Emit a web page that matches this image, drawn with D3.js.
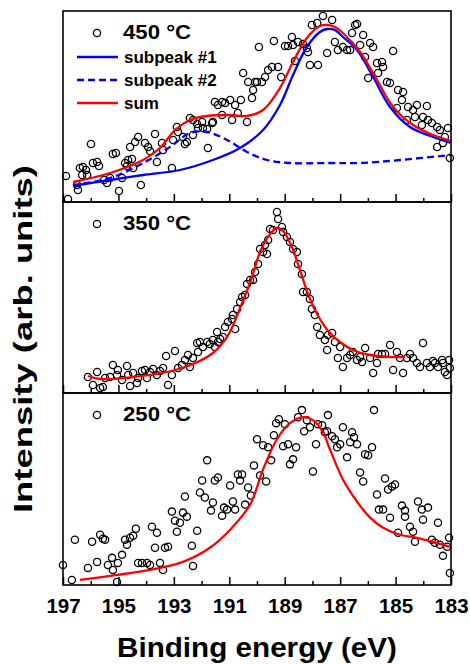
<!DOCTYPE html>
<html>
<head>
<meta charset="utf-8">
<script src="https://cdn.jsdelivr.net/npm/d3@7"></script>
<style>
body { margin: 0; background: #fff; }
text { font-family: Arial, "Liberation Sans", sans-serif; font-weight: bold; fill: #000; }
</style>
</head>
<body>
<div id="chart"></div>
<script>
// binding energy ticks (eV), labelled and unlabelled
const majorTicks = [197, 195, 193, 191, 189, 187, 185, 183];
const minorTicks = [196, 194, 192, 190, 188, 186, 184];
const panelLabels = ['450 °C', '350 °C', '250 °C'];
const legendNames = ['subpeak #1', 'subpeak #2', 'sum'];

// measured points [E (eV), intensity (arb.)]
const pts450 = [[196.89,26],[196.82,3],[196.49,17],[196.46,12],[196.39,34],[196.31,27],[196.28,35],[196.17,32],[196.13,27],[195.99,58],
  [195.92,39],[195.77,40],[195.70,36],[195.52,22],[195.41,19],[195.30,24],[195.20,48],[195.09,49],[194.98,11],[194.87,24],
  [194.76,39],[194.69,36],[194.65,42],[194.58,55],[194.51,43],[194.47,34],[194.40,60],[194.29,65],[194.19,17],[194.04,59],
  [193.93,55],[193.86,51],[193.68,68],[193.61,40],[193.43,59],[193.39,52],[193.07,34],[193.03,62],[192.89,75],[192.85,70],
  [192.67,65],[192.60,58],[192.53,60],[192.42,84],[192.31,82],[192.31,67],[192.16,78],[192.13,74],[191.98,80],[191.95,74],
  [191.80,73],[191.77,54],[191.62,79],[191.59,80],[191.52,100],[191.41,97],[191.26,100],[191.26,87],[191.15,99],[190.97,102],
  [190.90,82],[190.79,97],[190.69,89],[190.58,102],[190.50,129],[190.36,80],[190.32,120],[190.18,104],[190.14,112],[190.07,120],
  [190.00,120],[189.93,155],[189.82,120],[189.71,125],[189.60,132],[189.46,135],[189.39,161],[189.24,135],[189.13,125],[188.99,156],
  [188.88,156],[188.74,165],[188.70,157],[188.63,141],[188.52,160],[188.34,158],[188.20,154],[188.16,150],[188.09,137],[188.02,177],
  [187.83,179],[187.80,137],[187.62,186],[187.47,149],[187.29,182],[187.19,160],[187.08,152],[186.90,155],[186.75,152],[186.64,152],
  [186.57,169],[186.46,177],[186.39,178],[186.28,157],[186.17,167],[186.10,145],[185.99,124],[185.92,159],[185.81,155],[185.67,139],
  [185.63,129],[185.49,140],[185.45,135],[185.31,120],[185.20,119],[185.09,151],[184.95,94],[184.91,112],[184.77,102],[184.73,110],
  [184.59,82],[184.55,95],[184.37,92],[184.30,85],[184.23,97],[184.05,77],[184.01,85],[183.87,96],[183.83,82],[183.69,79],
  [183.50,75],[183.50,55],[183.40,72],[183.29,59],[183.22,65],[183.11,74],[183.04,44]];

const sub1_450 = [[196.64,16],[195.30,22],[194.11,27],[192.78,32],[191.59,42],[190.61,54],[189.78,72],[189.17,97],[188.70,127],[188.20,155],
  [187.73,170],[187.47,173],[187.19,172],[186.90,165],[186.39,152],[185.81,125],[185.20,95],[184.48,75],[183.65,65],[183.00,59]];
const sub2_450 = [[196.64,17],[195.30,24],[194.11,39],[193.14,55],[192.42,69],[191.80,70],[191.08,62],[190.36,50],[189.64,42],[188.81,39],
  [187.37,39],[186.28,39],[184.84,42],[183.00,47]];
const sum450 = [[196.64,20],[195.30,29],[194.11,42],[193.50,54],[192.96,72],[192.42,82],[191.80,86],[190.97,87],[190.36,86],[189.78,92],
  [189.17,114],[188.70,140],[188.20,164],[187.73,176],[187.47,177],[187.19,175],[186.90,169],[186.28,150],[185.67,122],[185.09,95],
  [184.37,77],[183.65,67],[183.00,61]];

const pts350 = [[196.10,16],[195.92,8],[195.77,21],[195.66,5],[195.56,6],[195.48,15],[195.30,16],[195.20,28],[195.05,18],[195.02,23],
  [194.87,13],[194.69,27],[194.65,18],[194.58,7],[194.47,20],[194.33,10],[194.29,15],[194.15,22],[194.04,23],[193.97,15],
  [193.86,21],[193.75,24],[193.61,18],[193.50,22],[193.39,25],[193.28,37],[193.21,8],[193.07,18],[192.96,42],[192.85,25],
  [192.71,28],[192.60,33],[192.49,38],[192.42,26],[192.31,35],[192.16,50],[192.13,41],[192.06,51],[191.95,46],[191.80,51],
  [191.70,49],[191.59,53],[191.52,46],[191.44,61],[191.41,51],[191.33,54],[191.23,56],[191.15,66],[191.05,71],[190.90,74],
  [190.87,78],[190.79,64],[190.72,84],[190.61,91],[190.54,96],[190.43,98],[190.36,109],[190.25,113],[190.14,113],[190.07,121],
  [189.96,129],[189.89,144],[189.78,141],[189.71,148],[189.64,139],[189.60,153],[189.53,164],[189.42,163],[189.28,181],[189.24,174],
  [189.10,166],[189.06,161],[188.92,156],[188.81,151],[188.70,144],[188.56,141],[188.52,129],[188.38,119],[188.34,101],[188.20,101],
  [188.09,94],[188.02,84],[187.91,78],[187.83,66],[187.73,58],[187.55,53],[187.47,43],[187.44,58],[187.29,60],[187.19,51],
  [187.08,35],[187.00,46],[186.90,26],[186.75,35],[186.64,38],[186.54,41],[186.39,33],[186.28,36],[186.21,31],[186.10,45],
  [185.92,35],[185.81,20],[185.67,30],[185.63,39],[185.49,39],[185.38,39],[185.20,48],[185.09,23],[184.95,41],[184.84,35],
  [184.73,20],[184.59,35],[184.48,39],[184.37,35],[184.23,30],[184.12,26],[184.01,50],[183.87,30],[183.76,26],[183.65,32],
  [183.58,30],[183.47,26],[183.32,33],[183.29,30],[183.22,21],[183.14,18],[183.07,33],[183.04,25]];
const fit350 = [[196.10,17],[195.66,14],[194.47,16],[193.25,21],[192.31,29],[191.59,40],[191.08,56],[190.58,87],[190.18,116],[189.89,141],
  [189.53,159],[189.28,165],[189.06,162],[188.74,146],[188.45,123],[188.09,94],[187.73,74],[187.37,60],[187.00,51],[186.54,43],
  [185.92,38],[185.20,36],[184.66,36]];

const pts250 = [[197.00,20],[196.68,5],[196.57,45],[196.10,17],[195.95,43],[195.77,23],[195.66,50],[195.56,46],[195.48,45],[195.38,20],
  [195.23,27],[195.20,15],[195.05,3],[195.02,22],[194.87,30],[194.76,45],[194.69,40],[194.58,47],[194.47,49],[194.37,56],
  [194.29,22],[194.15,22],[193.97,22],[193.86,20],[193.79,58],[193.68,37],[193.61,52],[193.50,22],[193.39,15],[193.32,37],
  [193.21,38],[193.07,73],[192.96,64],[192.89,53],[192.78,62],[192.67,72],[192.60,88],[192.53,68],[192.35,39],[192.31,19],
  [192.16,54],[192.06,92],[191.98,104],[191.88,87],[191.80,124],[191.66,74],[191.59,82],[191.52,104],[191.41,107],[191.26,69],
  [191.19,77],[191.08,75],[190.97,99],[190.87,83],[190.79,75],[190.69,110],[190.61,104],[190.54,110],[190.43,80],[190.32,97],
  [190.22,89],[190.11,119],[190.00,145],[189.89,109],[189.78,139],[189.67,103],[189.60,137],[189.49,124],[189.39,149],[189.31,161],
  [189.21,165],[189.06,138],[188.99,160],[188.88,140],[188.81,120],[188.70,125],[188.59,137],[188.52,167],[188.38,174],[188.30,153],
  [188.20,164],[188.09,157],[187.98,113],[187.87,140],[187.80,160],[187.65,159],[187.55,152],[187.47,153],[187.44,169],[187.29,148],
  [187.19,145],[187.11,137],[187.00,140],[186.90,157],[186.75,127],[186.64,142],[186.57,152],[186.50,147],[186.39,140],[186.28,112],
  [186.17,103],[186.10,130],[185.99,129],[185.85,137],[185.78,174],[185.67,90],[185.60,75],[185.45,75],[185.38,106],[185.27,95],
  [185.20,67],[185.13,98],[185.02,100],[184.91,52],[184.77,79],[184.66,74],[184.66,68],[184.48,58],[184.37,53],[184.30,43],
  [184.19,83],[184.05,75],[184.01,65],[183.83,77],[183.69,45],[183.58,42],[183.47,62],[183.40,40],[183.29,29],[183.14,38],
  [183.07,47],[183.04,12]];
const fit250 = [[196.39,5],[195.05,10],[193.86,15],[192.67,23],[191.70,37],[190.97,55],[190.25,80],[189.78,115],[189.28,145],[188.81,161],
  [188.34,167],[187.98,164],[187.62,152],[187.37,135],[186.90,105],[186.39,83],[185.92,67],[185.45,57],[184.84,50],[184.23,47],
  [183.65,43],[183.04,38]];

const width = 470, height = 664;
const plot = { left: 63, right: 451 };
const panelTops = [11, 202, 393];
const panelBottoms = [202, 393, 585];

const svg = d3.select('#chart').append('svg')
  .attr('width', width)
  .attr('height', height);

const x = d3.scaleLinear().domain([197, 183]).range([plot.left, plot.right]);

const panels = [
  { pts: pts450, lines: [{ d: sub1_450, color: '#0000ff', dash: null }, { d: sub2_450, color: '#0000ff', dash: '7,4' }, { d: sum450, color: '#ff0000', dash: null }] },
  { pts: pts350, lines: [{ d: fit350, color: '#ff0000', dash: null }] },
  { pts: pts250, lines: [{ d: fit250, color: '#ff0000', dash: null }] }
];

panels.forEach(function (p, i) {
  const top = panelTops[i], bottom = panelBottoms[i];
  const y = d3.scaleLinear().domain([0, 191]).range([bottom, top]);
  const g = svg.append('g');

  // minor ticks
  const minor = g.append('g')
    .attr('transform', 'translate(0,' + bottom + ')')
    .call(d3.axisBottom(x).tickValues(minorTicks).tickSize(-4).tickSizeOuter(0).tickFormat(''));
  minor.select('.domain').remove();
  // major ticks, labels on the bottom panel only
  const major = g.append('g')
    .attr('transform', 'translate(0,' + bottom + ')')
    .call(d3.axisBottom(x).tickValues(majorTicks).tickSize(-8).tickSizeOuter(0).tickPadding(13)
      .tickFormat(i === 2 ? d3.format('d') : ''));
  major.select('.domain').remove();
  g.selectAll('.tick line').attr('stroke', '#000').attr('stroke-width', 1.5);
  major.selectAll('text').style('font-size', '20.5px').attr('font-family', null).attr('fill', '#000');

  g.append('g').selectAll('circle')
    .data(p.pts)
    .join('circle')
    .attr('cx', d => x(d[0]))
    .attr('cy', d => y(d[1]))
    .attr('r', 3.6)
    .attr('fill', 'none')
    .attr('stroke', '#000')
    .attr('stroke-width', 1.3);

  const line = d3.line()
    .x(d => x(d[0]))
    .y(d => y(d[1]))
    .curve(d3.curveCatmullRom.alpha(0.5));

  p.lines.forEach(function (l) {
    g.append('path')
      .datum(l.d)
      .attr('d', line)
      .attr('fill', 'none')
      .attr('stroke', l.color)
      .attr('stroke-width', 2.3)
      .attr('stroke-dasharray', l.dash);
  });

  g.append('rect')
    .attr('x', plot.left)
    .attr('y', top)
    .attr('width', plot.right - plot.left)
    .attr('height', bottom - top)
    .attr('fill', 'none')
    .attr('stroke', '#000')
    .attr('stroke-width', 1.6);

  // temperature label with open-circle marker
  g.append('circle')
    .attr('cx', 97)
    .attr('cy', top + 22)
    .attr('r', 3.6)
    .attr('fill', 'none')
    .attr('stroke', '#000')
    .attr('stroke-width', 1.3);
  g.append('text')
    .attr('x', 123)
    .attr('y', top + 28)
    .attr('textLength', 68)
    .attr('lengthAdjust', 'spacingAndGlyphs')
    .style('font-size', '20px')
    .text(panelLabels[i]);
});

// legend for top panel
const legendRows = [
  { color: '#0000ff', dash: null, y: 57 },
  { color: '#0000ff', dash: '7,4', y: 80 },
  { color: '#ff0000', dash: null, y: 103 }
];
legendRows.forEach(function (r, k) {
  svg.append('line')
    .attr('x1', 77).attr('x2', 118)
    .attr('y1', r.y).attr('y2', r.y)
    .attr('stroke', r.color)
    .attr('stroke-width', 2.3)
    .attr('stroke-dasharray', r.dash);
  svg.append('text')
    .attr('x', 124)
    .attr('y', r.y + 6)
    .style('font-size', '17px')
    .text(legendNames[k]);
});

svg.append('text')
  .attr('x', 257)
  .attr('y', 657)
  .attr('text-anchor', 'middle')
  .attr('textLength', 280)
  .attr('lengthAdjust', 'spacingAndGlyphs')
  .style('font-size', '27px')
  .text('Binding energy (eV)');

svg.append('text')
  .attr('transform', 'translate(32,339) rotate(-90)')
  .attr('text-anchor', 'middle')
  .attr('textLength', 348)
  .attr('lengthAdjust', 'spacingAndGlyphs')
  .style('font-size', '26px')
  .text('Intensity (arb. units)');
</script>
</body>
</html>
